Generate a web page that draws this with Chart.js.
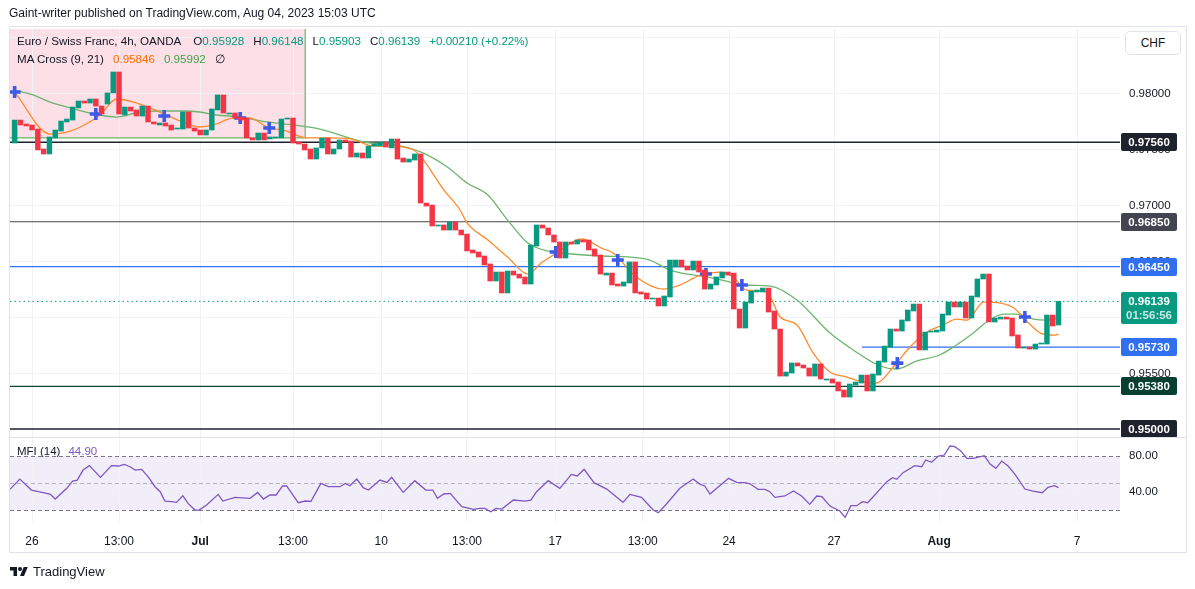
<!DOCTYPE html>
<html><head><meta charset="utf-8">
<script src="https://cdn.jsdelivr.net/npm/chart.js@4.4.0/dist/chart.umd.min.js"></script>
<style>
html,body{margin:0;padding:0;background:#fff;width:1195px;height:589px;overflow:hidden;font-family:"Liberation Sans",Arial,sans-serif;color:#131722}
.abs{position:absolute;white-space:nowrap}
#frame{position:absolute;left:9px;top:26px;width:1178px;height:527px;border:1px solid #e0e3eb;box-sizing:border-box;pointer-events:none}
#sep{position:absolute;left:9px;top:437px;width:1178px;height:1px;background:#e0e3eb}
#hdr{left:9px;top:6px;font-size:12px}
.leg{left:17px;font-size:11.6px;line-height:14px}
.g{color:#089981}
.sp{margin-left:9px}
#chf{left:1125px;top:31px;width:56px;height:24px;border:1px solid #e0e3eb;border-radius:5px;box-sizing:border-box;background:#fff;font-size:12px;text-align:center;line-height:22px}
#mfil{left:17px;top:445px;font-size:11.5px}
#logo{left:10px;top:564px;font-size:13px;display:flex;align-items:center}
canvas{position:absolute;left:0}
</style></head>
<body>
<canvas id="ca" width="1195" height="438" style="top:0"></canvas>
<canvas id="cb" width="1195" height="119" style="top:438px"></canvas>
<div id="frame"></div><div id="sep"></div>
<div class="abs" id="hdr">Gaint-writer published on TradingView.com, Aug 04, 2023 15:03 UTC</div>
<div class="abs leg" style="top:34px">Euro / Swiss Franc, 4h, OANDA<span style="margin-left:12px">O</span><span class="g">0.95928</span><span class="sp">H</span><span class="g">0.96148</span><span class="sp">L</span><span class="g">0.95903</span><span class="sp">C</span><span class="g">0.96139</span><span class="sp g">+0.00210 (+0.22%)</span></div>
<div class="abs leg" style="top:52px">MA Cross (9, 21)<span class="sp" style="color:#ff6d00">0.95846</span><span class="sp" style="color:#43a047">0.95992</span><span class="sp">∅</span></div>
<div class="abs" id="chf">CHF</div>
<div class="abs" id="mfil">MFI (14)<span style="color:#7e57c2;margin-left:8px">44.90</span></div>
<div class="abs" id="logo"><svg width="18" height="14" viewBox="0 0 36 28"><path d="M14 22H7V11H0V4h14v18z" fill="#131722"/><circle cx="20" cy="8" r="4" fill="#131722"/><path d="M28 22h-8l7.5-18h8L28 22z" fill="#131722"/></svg><span style="margin-left:5px">TradingView</span></div>
<script>
// ---- data ----
const opens = [0.97553,0.97758,0.97723,0.97714,0.97678,0.97500,0.97455,0.97598,0.97660,0.97741,
0.97758,0.97866,0.97928,0.97910,0.97946,0.97883,0.97901,0.98000,0.98187,0.97803,
0.97874,0.97848,0.97794,0.97883,0.97741,0.97714,0.97732,0.97714,0.97678,0.97678,
0.97830,0.97687,0.97669,0.97625,0.97669,0.97848,0.97982,0.97812,0.97821,0.97785,
0.97776,0.97598,0.97580,0.97642,0.97589,0.97598,0.97598,0.97767,0.97776,0.97562,
0.97544,0.97500,0.97410,0.97509,0.97598,0.97455,0.97500,0.97580,0.97571,0.97428,
0.97464,0.97419,0.97526,0.97526,0.97562,0.97509,0.97589,0.97419,0.97383,0.97401,
0.97455,0.97017,0.96999,0.96812,0.96821,0.96776,0.96848,0.96776,0.96740,0.96598,
0.96580,0.96544,0.96473,0.96321,0.96401,0.96214,0.96410,0.96383,0.96357,0.96294,
0.96633,0.96821,0.96794,0.96732,0.96669,0.96526,0.96669,0.96651,0.96687,0.96687,
0.96607,0.96553,0.96374,0.96392,0.96294,0.96276,0.96303,0.96491,0.96223,0.96214,
0.96160,0.96169,0.96098,0.96178,0.96446,0.96508,0.96455,0.96419,0.96499,0.96419,
0.96249,0.96285,0.96348,0.96401,0.96392,0.96071,0.95901,0.96124,0.96223,0.96223,
0.96258,0.96053,0.95892,0.95472,0.95499,0.95589,0.95571,0.95544,0.95472,0.95580,
0.95437,0.95446,0.95419,0.95348,0.95285,0.95392,0.95410,0.95481,0.95339,0.95481,
0.95597,0.95731,0.95892,0.95874,0.95964,0.96053,0.96115,0.95705,0.95865,0.95865,
0.95874,0.96017,0.96133,0.96089,0.96133,0.95990,0.96178,0.96339,0.96383,0.95955,
0.95981,0.95999,0.95990,0.95839,0.95722,0.95731,0.95713,0.95758,0.95758,0.96017,
0.95928];
const closes = [0.97758,0.97714,0.97705,0.97669,0.97491,0.97455,0.97607,0.97669,0.97749,0.97767,
0.97874,0.97928,0.97910,0.97946,0.97883,0.97812,0.98000,0.98187,0.97812,0.97874,
0.97839,0.97794,0.97883,0.97741,0.97723,0.97732,0.97705,0.97669,0.97687,0.97830,
0.97687,0.97660,0.97625,0.97669,0.97857,0.97982,0.97821,0.97821,0.97776,0.97758,
0.97598,0.97580,0.97642,0.97580,0.97607,0.97607,0.97767,0.97776,0.97553,0.97544,
0.97491,0.97410,0.97509,0.97598,0.97455,0.97500,0.97580,0.97562,0.97428,0.97464,
0.97419,0.97526,0.97544,0.97562,0.97517,0.97589,0.97410,0.97383,0.97410,0.97455,
0.97017,0.96990,0.96812,0.96821,0.96776,0.96848,0.96776,0.96732,0.96589,0.96571,
0.96535,0.96464,0.96321,0.96401,0.96214,0.96410,0.96374,0.96347,0.96294,0.96642,
0.96821,0.96794,0.96732,0.96669,0.96526,0.96669,0.96651,0.96687,0.96669,0.96598,
0.96544,0.96383,0.96392,0.96285,0.96276,0.96312,0.96491,0.96214,0.96205,0.96160,
0.96169,0.96098,0.96187,0.96508,0.96508,0.96446,0.96419,0.96499,0.96401,0.96249,
0.96294,0.96357,0.96401,0.96374,0.96071,0.95901,0.96133,0.96231,0.96240,0.96258,
0.96044,0.95892,0.95472,0.95508,0.95589,0.95562,0.95544,0.95472,0.95580,0.95446,
0.95446,0.95410,0.95339,0.95285,0.95401,0.95419,0.95481,0.95339,0.95490,0.95606,
0.95740,0.95892,0.95874,0.95973,0.96062,0.96115,0.95705,0.95865,0.95874,0.95883,
0.96026,0.96133,0.96089,0.96133,0.95990,0.96187,0.96339,0.96383,0.95955,0.95990,
0.95999,0.95981,0.95830,0.95722,0.95731,0.95713,0.95758,0.95767,0.96017,0.95919,
0.96139];

const ma9Idx = [0,6.1,9,12,14.7,17.6,20.5,23.3,26.2,29,31.9,34.3,37.7,40.6,43.5,46.9,50.3,54.4,57.9,61.9,64.8,68.8,70.5,74,76.8,78,81.6,85,88.5,90.8,93.7,97.7,101.2,103.2,107.2,111.8,114.7,118.2,121.6,123.9,126.2,129.7,132,134.9,137.7,140.6,143.5,146.4,148.6,151.5,154.4,157.3,160.1,162.4,164.2,167.1,170,172.3,175.2,176.9,179.2,180];
const ma9Val = [0.98008,0.97633,0.97651,0.97714,0.97803,0.97946,0.97919,0.97866,0.97803,0.97741,0.97696,0.97714,0.97776,0.97776,0.97696,0.97660,0.97598,0.97598,0.97589,0.97526,0.97526,0.97491,0.97401,0.97134,0.96955,0.96839,0.96687,0.96535,0.96383,0.96481,0.96580,0.96696,0.96615,0.96571,0.96356,0.96249,0.96285,0.96374,0.96401,0.96356,0.96240,0.96222,0.95999,0.95928,0.95678,0.95508,0.95463,0.95419,0.95410,0.95553,0.95731,0.95865,0.95928,0.95981,0.95972,0.96133,0.96124,0.96080,0.95928,0.95856,0.95838,0.95846];
const ma21Idx = [0,3.2,6.1,9.6,13.6,17.6,21.6,25,29.1,31.9,34.8,38.9,43.5,48.1,52.6,60.2,65.9,70,74.6,78,81.6,85,88.5,91.9,96,101.2,109,113,120.5,126.2,130.3,134.9,140.6,144.6,149.2,152.1,155.5,159.5,162.4,165.3,167.6,170.5,172.8,175.7,178,180];
const ma21Val = [0.98026,0.97982,0.97919,0.97866,0.97812,0.97785,0.97830,0.97839,0.97839,0.97830,0.97803,0.97785,0.97741,0.97714,0.97678,0.97562,0.97535,0.97473,0.97339,0.97196,0.97089,0.96865,0.96660,0.96589,0.96562,0.96544,0.96517,0.96419,0.96347,0.96285,0.96276,0.96151,0.95856,0.95705,0.95562,0.95535,0.95606,0.95660,0.95749,0.95856,0.95955,0.96026,0.96026,0.95981,0.95972,0.95992];
const crossIdx = [0,14,25.8,38.9,43.9,93.3,104,119.2,125.4,152.2,174.2];
const crossVal = [0.98008,0.97812,0.97794,0.97776,0.97687,0.96580,0.96508,0.96383,0.96285,0.95588,0.95999];

const levelPrices = [0.9756,0.9685,0.9645,0.9573,0.9538,0.9500];
const levelStart = [-0.8,-0.8,-0.8,146.1,-0.8,-0.8];
const lastPrice = 0.96139;
const countdown = "01:56:56";
const rangeBox = [-0.8, 50.1, 0.98571, 0.97598]; // x from, x to, price top, price bottom

const mfiIdx = [-0.8,0.9,2.9,4.1,6.1,7.0,9.0,10.0,10.8,11.8,12.9,14.8,16.7,17.9,18.9,19.9,20.8,21.9,23.1,24.2,25.1,25.9,27.1,27.9,29.0,29.9,31.1,31.8,33.1,35.1,35.9,38.0,40.6,41.9,42.9,44.0,45.1,46.2,46.9,48.9,50.1,51.1,52.8,54.1,56.1,57.0,57.8,59.0,60.1,61.0,63.0,64.2,65.0,67.0,69.0,70.9,72.1,72.9,74.0,75.1,77.1,79.1,80.2,81.1,82.1,83.0,84.0,86.0,88.0,89.0,90.0,92.0,94.0,96.0,97.0,98.2,99.9,102.1,104.9,106.1,108.1,110.1,111.0,112.4,114.7,117.0,118.2,119.0,119.9,123.1,124.5,125.9,126.8,128.2,129.4,130.2,131.1,132.8,134.3,135.7,137.1,138.3,139.2,140.6,142.3,143.2,144.2,145.2,146.2,147.1,150.4,151.4,152.1,153.2,155.2,156.4,157.1,158.1,159.3,160.3,161.3,162.1,163.1,164.2,165.3,167.2,168.2,169.2,170.2,171.3,172.5,174.2,175.6,177.2,178.2,179.3,180];
const mfiVal = [43,54.4,42.2,40.4,37.8,32.2,44.1,52.2,53.3,64.4,69.3,56.3,69.3,68.9,70.7,68.1,64.4,65.2,56.3,45.9,40.4,30,29.3,28.5,35.9,27.4,20,20,25.6,37.4,30,34.1,33,39.6,32.2,36.7,36.7,46.7,46.7,28.1,30,29.6,49.6,45.9,45.9,49.6,47,54.4,44.8,42.2,53.3,50.7,56.3,39.6,52.6,42.2,42.2,33,37.8,38.5,23.7,20.7,21.8,21.8,18.1,21.8,21.1,31.1,30,31.1,40.4,52.6,44.1,59.6,57.8,65.2,50.4,43.3,28.5,37.4,34.1,20,17,26.7,44.1,54.4,48.5,46.7,37.8,55.2,50.7,50.4,49.2,43,43,40.4,34.1,35.6,41.1,35.6,26.3,35.6,34.8,24.4,18.9,11.9,24.8,24.8,29.3,28.1,51.5,55.9,54.1,61.5,69.3,68.1,75.6,73,80,81.1,91.1,90.4,85.9,77.4,77.4,80.4,71.1,66.3,74.4,68.9,59.6,43.3,41.1,39.2,45.2,47,44.9];

const xTickIdx = [3,18,32,48,63.2,78,93.2,108.3,123.2,141.3,159.4,183.2];
const xTickLabels = ["26","13:00","Jul","13:00","10","13:00","17","13:00","24","27","Aug","7"];
const yTickVals = [0.95,0.955,0.96,0.965,0.97,0.975,0.98,0.985];
const mfiTicks = [40,80];

// ---- styling ----
const FONT = '"Liberation Sans", Arial, sans-serif';
Chart.defaults.font.family = FONT;
Chart.defaults.color = '#131722';
const GRID = '#f0f2f6';
const UP = '#089981', DOWN = '#f23645';
const levelColors = ['#1e222d','#434651','#2f6ff0','#2f6ff0','#0a4536','#1e222d'];
const levelLabelBg = ['#1e222d','#42454f','#2f6ff0','#2f6ff0','#073f31','#1e222d'];
const X_MIN = -0.8, X_MAX = 190.6;

const pts = (xs, ys) => xs.map((v, i) => ({x: v, y: ys[i]}));

const candleData = opens.map((o, i) => ({x: i, y: [o, closes[i]]}));
const candleColors = opens.map((o, i) => closes[i] >= o ? UP : DOWN);

const datasets = [
  {type:'bar', data:candleData, backgroundColor:candleColors, borderWidth:0, barThickness:4.8, order:0},
  {type:'line', data:pts(crossIdx, crossVal), showLine:false, pointStyle:'cross', pointRadius:6,
   pointBorderWidth:3.6, pointBorderColor:'#3c5ae8', pointBackgroundColor:'#3c5ae8', order:1},
  {type:'line', data:pts(ma9Idx, ma9Val), borderColor:'#ff8a2b', borderWidth:1.3, pointRadius:0, cubicInterpolationMode:'monotone', order:2},
  {type:'line', data:pts(ma21Idx, ma21Val), borderColor:'#6db56e', borderWidth:1.3, pointRadius:0, cubicInterpolationMode:'monotone', order:2},
  {type:'line', data:[{x:X_MIN,y:lastPrice},{x:X_MAX,y:lastPrice}], borderColor:UP, borderWidth:1, borderDash:[1.5,3], pointRadius:0, order:3}
];
levelPrices.forEach((p, k) => {
  datasets.push({type:'line', data:[{x:levelStart[k],y:p},{x:X_MAX,y:p}], borderColor:levelColors[k],
    borderWidth:(k===0||k===5)?1.5:1.2, pointRadius:0, order:3});
});

const paneA = {
  id:'paneA',
  beforeDraw(c){
    const {ctx, chartArea:a, scales:{x, y}} = c;
    const x0 = x.getPixelForValue(rangeBox[0]), x1 = x.getPixelForValue(rangeBox[1]);
    const y0 = y.getPixelForValue(rangeBox[2]), y1 = y.getPixelForValue(rangeBox[3]);
    ctx.save();
    ctx.fillStyle = '#fcdfe7';
    ctx.fillRect(x0, y0, x1 - x0, y1 - y0);
    ctx.strokeStyle = GRID; ctx.lineWidth = 1;
    xTickIdx.forEach(v => {
      const xx = Math.round(x.getPixelForValue(v)) + 0.5;
      ctx.beginPath(); ctx.moveTo(xx, a.top); ctx.lineTo(xx, a.bottom); ctx.stroke();
    });
    yTickVals.forEach(v => {
      const yy = Math.round(y.getPixelForValue(v)) + 0.5;
      ctx.beginPath(); ctx.moveTo(a.left, yy); ctx.lineTo(a.right, yy); ctx.stroke();
    });
    ctx.strokeStyle = '#66b866'; ctx.lineWidth = 1.2;
    ctx.beginPath(); ctx.moveTo(x1, y0); ctx.lineTo(x1, y1); ctx.lineTo(x0, y1); ctx.stroke();
    ctx.restore();
  },
  afterDraw(c){
    const {ctx, chartArea:a, scales:{y}} = c;
    ctx.save();
    ctx.font = '11.5px ' + FONT; ctx.fillStyle = '#131722';
    ctx.textAlign = 'left'; ctx.textBaseline = 'middle';
    yTickVals.forEach(v => ctx.fillText(v.toFixed(5), a.right + 9, Math.round(y.getPixelForValue(v)) + 0.5));
    ctx.font = 'bold 11.5px ' + FONT;
    ctx.textAlign = 'center';
    levelPrices.forEach((p, k) => {
      const yy = Math.round(y.getPixelForValue(p));
      ctx.fillStyle = levelLabelBg[k];
      ctx.beginPath(); ctx.roundRect(a.right + 1, yy - 9, 56, 18, 2); ctx.fill();
      ctx.fillStyle = '#fff';
      ctx.fillText(p.toFixed(5), a.right + 29, yy + 0.5);
    });
    const yc = Math.round(y.getPixelForValue(lastPrice));
    ctx.fillStyle = UP;
    ctx.beginPath(); ctx.roundRect(a.right + 1, yc - 9, 56, 32, 2); ctx.fill();
    ctx.fillStyle = '#fff';
    ctx.fillText(lastPrice.toFixed(5), a.right + 29, yc + 0.5);
    ctx.fillStyle = 'rgba(255,255,255,0.78)';
    ctx.fillText(countdown, a.right + 29, yc + 14.5);
    ctx.restore();
  }
};

new Chart(document.getElementById('ca'), {
  type:'bar',
  data:{datasets},
  options:{
    responsive:false, animation:false, events:[],
    layout:{autoPadding:false, padding:{left:10, top:29, right:75, bottom:1}},
    plugins:{legend:{display:false}, tooltip:{enabled:false}},
    scales:{
      x:{type:'linear', display:false, min:X_MIN, max:X_MAX, offset:false},
      y:{type:'linear', display:false, min:0.94928, max:0.98571}
    }
  },
  plugins:[paneA]
});

const paneB = {
  id:'paneB',
  beforeDraw(c){
    const {ctx, chartArea:a, scales:{y}} = c;
    const y80 = y.getPixelForValue(80), y20 = y.getPixelForValue(20);
    ctx.save(); ctx.fillStyle = 'rgba(126,87,194,0.1)';
    ctx.fillRect(a.left, y80, a.right - a.left, y20 - y80); ctx.restore();
  },
  beforeDatasetsDraw(c){
    const {ctx, chartArea:a, scales:{y}} = c;
    ctx.save(); ctx.lineWidth = 1; ctx.setLineDash([4,3]);
    [[80,'#787b86'],[50,'#b2b5be'],[20,'#787b86']].forEach(([v, col]) => {
      const yy = Math.round(y.getPixelForValue(v)) + 0.5;
      ctx.strokeStyle = col; ctx.beginPath(); ctx.moveTo(a.left, yy); ctx.lineTo(a.right, yy); ctx.stroke();
    });
    ctx.restore();
  }
};

new Chart(document.getElementById('cb'), {
  type:'line',
  data:{datasets:[{data:pts(mfiIdx, mfiVal), borderColor:'#7e57c2', borderWidth:1.3, pointRadius:0, tension:0}]},
  options:{
    responsive:false, animation:false, events:[],
    layout:{autoPadding:false, padding:{left:10, top:1, right:0, bottom:0}},
    plugins:{legend:{display:false}, tooltip:{enabled:false}},
    scales:{
      x:{type:'linear', min:X_MIN, max:X_MAX, offset:false,
        grid:{color:GRID, drawTicks:false}, border:{display:false},
        ticks:{padding:12, maxRotation:0, autoSkip:false, color:'#131722',
          font:ctx => ({size:12, weight:(xTickLabels[ctx.index]==='Jul'||xTickLabels[ctx.index]==='Aug')?'bold':'normal'}),
          callback:(v, i) => xTickLabels[i]},
        afterBuildTicks:s => { s.ticks = xTickIdx.map(v => ({value:v})); },
        afterFit:s => { s.height = 35; s.paddingLeft = 0; s.paddingRight = 0; }
      },
      y:{type:'linear', position:'right', min:6.7, max:98.9,
        grid:{color:GRID, drawTicks:false}, border:{display:false},
        ticks:{padding:9, font:{size:11.5}, color:'#131722', callback:v => v.toFixed(2)},
        afterBuildTicks:s => { s.ticks = mfiTicks.map(v => ({value:v})); },
        afterFit:s => { s.width = 75; s.paddingTop = 0; s.paddingBottom = 0; }
      }
    }
  },
  plugins:[paneB]
});
</script>
</body></html>
